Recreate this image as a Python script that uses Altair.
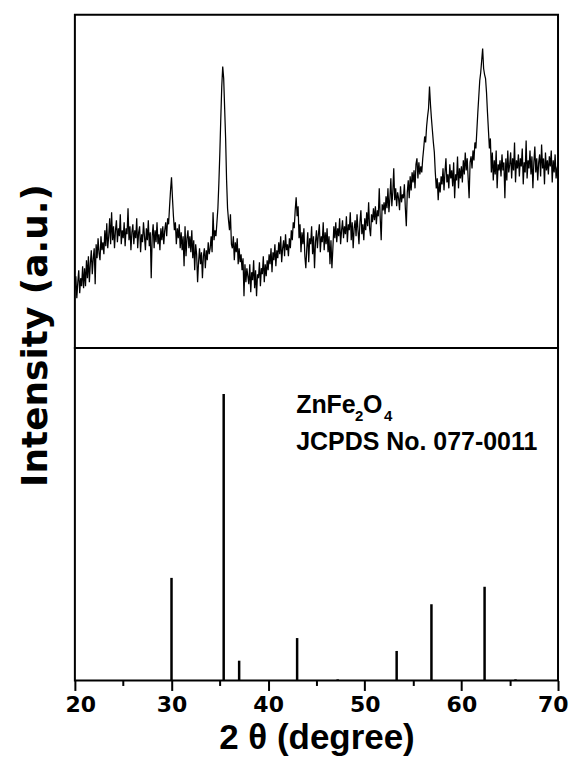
import altair as alt
import pandas as pd

# ---------------- data ----------------
# XRD pattern (top panel): 2-theta from 20.0 to 70.0 in steps of 0.1, one row per degree
xrd_start = 20.0
xrd_step = 0.1
xrd_rows = [
    [58, 72, 50, 66, 78, 55, 70, 62, 82, 60],        # 20
    [80, 62, 88, 70, 92, 66, 85, 98, 74, 90],        # 21
    [100, 64, 104, 90, 110, 95, 88, 112, 98, 106],   # 22
    [94, 118, 102, 125, 100, 112, 130, 104, 136, 108],  # 23
    [122, 100, 118, 128, 106, 120, 112, 134, 104, 118],  # 24
    [110, 126, 102, 120, 114, 140, 108, 122, 98, 116],   # 25
    [124, 104, 118, 110, 130, 100, 116, 122, 96, 114],   # 26
    [106, 126, 112, 98, 120, 108, 128, 102, 116, 70],    # 27
    [112, 124, 100, 118, 106, 126, 104, 114, 98, 120],   # 28
    [108, 122, 104, 118, 126, 112, 130, 124, 142, 158],  # 29
    [171, 150, 132, 118, 126, 104, 120, 110, 124, 100],  # 30
    [116, 98, 112, 82, 122, 92, 110, 118, 100, 112],     # 31
    [96, 118, 90, 108, 78, 104, 94, 66, 86, 100],        # 32
    [84, 96, 70, 92, 100, 80, 98, 88, 106, 94],          # 33
    [100, 112, 96, 136, 108, 118, 112, 126, 140, 165],   # 34
    [195, 230, 262, 282, 270, 240, 210, 168, 140, 128],  # 35
    [118, 134, 104, 100, 112, 88, 106, 96, 110, 84],     # 36
    [100, 86, 94, 78, 90, 52, 84, 66, 80, 72],           # 37
    [64, 84, 56, 76, 68, 88, 60, 78, 52, 74],            # 38
    [70, 86, 62, 80, 74, 92, 66, 84, 72, 88],            # 39
    [78, 94, 84, 100, 76, 96, 88, 104, 82, 98],          # 40
    [90, 106, 94, 112, 86, 100, 108, 92, 114, 98],       # 41
    [104, 92, 110, 100, 118, 108, 126, 120, 138, 151],   # 42
    [132, 142, 110, 124, 96, 116, 104, 120, 92, 80],     # 43
    [100, 116, 86, 110, 104, 122, 94, 112, 80, 106],     # 44
    [118, 100, 114, 124, 96, 112, 106, 126, 98, 116],    # 45
    [104, 120, 96, 112, 84, 108, 80, 100, 122, 110],     # 46
    [126, 106, 120, 112, 130, 104, 118, 128, 110, 122],  # 47
    [114, 132, 106, 124, 118, 136, 108, 126, 100, 120],  # 48
    [128, 112, 134, 118, 104, 126, 138, 114, 124, 108],  # 49
    [130, 118, 136, 122, 146, 120, 112, 134, 126, 140],  # 50
    [128, 142, 124, 138, 132, 160, 130, 108, 144, 138],  # 51
    [146, 134, 152, 140, 160, 136, 150, 170, 142, 156],  # 52
    [180, 148, 160, 142, 156, 150, 138, 162, 146, 154],  # 53
    [150, 164, 140, 122, 156, 168, 150, 172, 158, 176],  # 54
    [166, 178, 160, 184, 190, 170, 186, 174, 182, 176],  # 55
    [190, 200, 212, 206, 222, 232, 240, 262, 244, 230],  # 56
    [218, 206, 196, 176, 160, 170, 148, 166, 156, 172],  # 57
    [164, 180, 158, 176, 190, 166, 174, 160, 184, 170],  # 58
    [178, 162, 186, 150, 174, 168, 192, 160, 180, 170],  # 59
    [182, 166, 188, 174, 196, 178, 190, 170, 150, 186],  # 60
    [192, 180, 198, 188, 206, 200, 218, 236, 252, 268],  # 61
    [276, 288, 300, 280, 274, 270, 256, 236, 218, 200],  # 62
    [210, 176, 196, 168, 188, 174, 198, 160, 184, 178],  # 63
    [188, 172, 194, 178, 186, 150, 190, 168, 198, 176],  # 64
    [184, 196, 170, 190, 178, 206, 166, 188, 180, 194],  # 65
    [172, 190, 182, 200, 164, 186, 176, 208, 170, 188],  # 66
    [180, 198, 174, 192, 160, 186, 202, 176, 190, 168],  # 67
    [186, 194, 172, 204, 180, 190, 164, 196, 178, 188],  # 68
    [174, 192, 182, 198, 166, 188, 176, 194, 170, 180],  # 69
    [184],                                               # 70
]

# JCPDS 077-0011 reference lines (bottom panel)
ref_two_theta = [30.0, 35.4, 37.0, 43.0, 47.2, 53.3, 56.9, 62.4, 65.6]
ref_intensity = [35.8, 100.0, 6.9, 14.8, 0.4, 10.3, 26.6, 32.7, 0.4]

# annotation (phase label and card number), anchored in data units
ann_x = 42.9
formula_y = 93.3
card_y = 80.5
card_text = "JCPDS No. 077-0011"
# formula pieces: text, pixel offset right, pixel offset down, font size
formula_parts = [("ZnFe", 0, 0, 25), ("2", 59, 8, 15), ("O", 67, 0, 25), ("4", 88, 8, 15)]

x_major = [20, 30, 40, 50, 60, 70]
x_minor = [25, 35, 45, 55, 65]

# ---------------- tables ----------------
xrd_int = [v for row in xrd_rows for v in row]
xrd_tt = [round(xrd_start + xrd_step * i, 1) for i in range(len(xrd_int))]
df_xrd = pd.DataFrame({"two_theta": xrd_tt, "intensity": xrd_int})
df_ref = pd.DataFrame({"pos": ref_two_theta, "inten": ref_intensity})
df_minor = pd.DataFrame({"m": x_minor})

W = 484
xscale = alt.Scale(domain=[20, 70], nice=False, zero=False)
yscale_top = alt.Scale(domain=[0, 334], nice=False, zero=False)
yscale_bot = alt.Scale(domain=[0, 116], nice=False, zero=False)

top = alt.Chart(df_xrd).mark_line(color="black", strokeWidth=1.25).encode(
    x=alt.X("two_theta:Q", scale=xscale, axis=None),
    y=alt.Y(
        "intensity:Q",
        scale=yscale_top,
        axis=alt.Axis(
            title="Intensity (a.u.)",
            domain=False, ticks=False, labels=False, grid=False,
            titleX=-28, titleY=321, titleAngle=270,
            titleAlign="center", titleBaseline="alphabetic",
            titleFont="DejaVu Sans", titleFontSize=36, titleFontWeight="bold",
            titleColor="black",
        ),
    ),
).properties(width=W, height=334)

sticks = alt.Chart(df_ref).mark_rule(color="black", strokeWidth=2.5).encode(
    x=alt.X(
        "pos:Q",
        scale=xscale,
        axis=alt.Axis(
            values=x_major, orient="bottom", title="2 θ (degree)",
            domain=False, grid=False,
            tickSize=10, tickWidth=2, tickColor="black",
            labelFont="DejaVu Sans", labelFontSize=22, labelFontWeight="bold",
            labelColor="black", labelPadding=4,
            labelFlush=True, labelFlushOffset=10,
            titleFont="Liberation Sans", titleFontSize=35, titleFontWeight="bold",
            titleColor="black", titlePadding=5,
        ),
    ),
    y=alt.Y("inten:Q", scale=yscale_bot, axis=None),
    y2=alt.datum(0),
)

minor = alt.Chart(df_minor).mark_rule(opacity=0).encode(
    x=alt.X(
        "m:Q",
        scale=xscale,
        axis=alt.Axis(
            values=x_minor, orient="bottom", title=None, labels=False,
            domain=False, grid=False, tickSize=5, tickWidth=2, tickColor="black",
        ),
    ),
)

layers = [sticks, minor]

card = alt.Chart(pd.DataFrame({"x": [ann_x], "y": [card_y], "t": [card_text]})).mark_text(
    align="left", baseline="alphabetic", font="Liberation Sans",
    fontSize=25, fontWeight="bold", color="black",
).encode(
    x=alt.X("x:Q", scale=xscale, axis=None),
    y=alt.Y("y:Q", scale=yscale_bot, axis=None),
    text="t:N",
)
layers.append(card)

for txt, ddx, ddy, fs in formula_parts:
    piece = alt.Chart(pd.DataFrame({"x": [ann_x], "y": [formula_y], "t": [txt]})).mark_text(
        align="left", baseline="alphabetic", font="Liberation Sans",
        fontSize=fs, fontWeight="bold", color="black", dx=ddx, dy=ddy,
    ).encode(
        x=alt.X("x:Q", scale=xscale, axis=None),
        y=alt.Y("y:Q", scale=yscale_bot, axis=None),
        text="t:N",
    )
    layers.append(piece)

bottom = alt.layer(*layers).resolve_axis(x="independent").properties(
    width=W, height=333
)

chart = (
    alt.vconcat(top, bottom, spacing=0, bounds="flush")
    .properties(padding={"left": 9, "top": 5, "right": 0, "bottom": 0})
    .configure_view(stroke="black", strokeWidth=2)
)

chart.save("out.html", embed_options={"renderer": "svg", "actions": False})
